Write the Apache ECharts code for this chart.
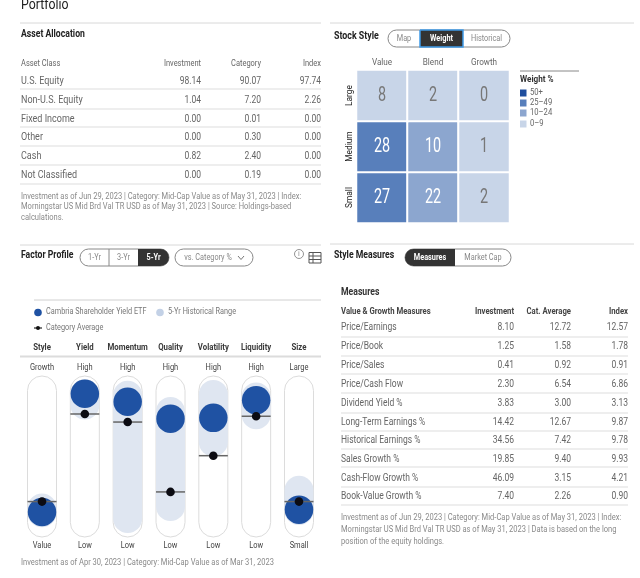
<!DOCTYPE html>
<html><head><meta charset="utf-8">
<style>html,body{margin:0;padding:0;background:#fff}#c{width:640px;height:578px}</style>
<script src="https://cdn.jsdelivr.net/npm/echarts@6/dist/echarts.min.js"></script>
</head><body><div id="c"></div>
<script>
// ---- data ----
const assetHeader = ['Asset Class','Investment','Category','Index'];
const assetNames = ['U.S. Equity','Non-U.S. Equity','Fixed Income','Other','Cash','Not Classified'];
const assetInvestment = ['98.14','1.04','0.00','0.00','0.82','0.00'];
const assetCategory = ['90.07','7.20','0.01','0.30','2.40','0.19'];
const assetIndex = ['97.74','2.26','0.00','0.00','0.00','0.00'];
const assetNote = ['Investment as of Jun 29, 2023 | Category: Mid-Cap Value as of May 31, 2023 | Index:','Morningstar US Mid Brd Val TR USD as of May 31, 2023 | Source: Holdings-based','calculations.'];

const styleCols = ['Value','Blend','Growth'];
const styleRows = ['Small','Medium','Large'];
const styleWeights = [[27,22,2],[28,10,1],[8,2,0]];
const weightLabels = ['50+','25–49','10–24','0–9'];
const weightColors = ['#1f4e9e','#587fbb','#8ca6cf','#c8d5e8'];

const factors = ['Style','Yield','Momentum','Quality','Volatility','Liquidity','Size'];
const factorHigh = ['Growth','High','High','High','High','High','Large'];
const factorLow = ['Value','Low','Low','Low','Low','Low','Small'];
const fundScore = [15.5,89,84,73.5,74,85,17];
const categoryAvg = [22,76.4,71.4,28,50.5,75,22];
const rangeLow = [6,73,2.5,10,50,67,7.5];
const rangeHigh = [27,98,97,87,97.5,96,38];

const measureHeader = ['Value & Growth Measures','Investment','Cat. Average','Index'];
const measureNames = ['Price/Earnings','Price/Book','Price/Sales','Price/Cash Flow','Dividend Yield %','Long-Term Earnings %','Historical Earnings %','Sales Growth %','Cash-Flow Growth %','Book-Value Growth %'];
const measureInvestment = ['8.10','1.25','0.41','2.30','3.83','14.42','34.56','19.85','46.09','7.40'];
const measureCategory = ['12.72','1.58','0.92','6.54','3.00','12.67','7.42','9.40','3.15','2.26'];
const measureIndex = ['12.57','1.78','0.91','6.86','3.13','9.87','9.78','9.93','4.21','0.90'];
const measureNote = ['Investment as of Jun 29, 2023 | Category: Mid-Cap Value as of May 31, 2023 | Index:','Morningstar US Mid Brd Val TR USD as of May 31, 2023 | Data is based on the long','position of the equity holdings.'];
const factorNote = 'Investment as of Apr 30, 2023 | Category: Mid-Cap Value as of Mar 31, 2023';

// ---- helpers ----
const FONT = 'Roboto,sans-serif';
const BLUE = '#1f52a3', PALE = '#dfe6f1', DARK = '#333', GREY = '#666', SX = 0.85;
const g = [];
function T(x,y,text,o){o=o||{};g.push({type:'text',x:x,y:y,z:20,scaleX:o.sx||SX,rotation:o.rot||0,style:{text:text,fill:o.c||GREY,font:(o.b?'bold ':'')+(o.s||9)+'px '+FONT,textAlign:o.a||'left',textVerticalAlign:'middle'}});}
function L(x1,x2,y,c,w,z){g.push({type:'line',z:z||5,shape:{x1:x1,y1:y,x2:x2,y2:y},style:{stroke:c||'#e2e2e2',lineWidth:w||1}});}
function R(x,y,w,h,r,fill,stroke,lw){g.push({type:'rect',z:10,shape:{x:x,y:y,width:w,height:h,r:r},style:{fill:fill,stroke:stroke||null,lineWidth:lw||1}});}
function pill(x,y,w,h,segs){
  R(x,y,w,h,h/2,'#fff','#888');
  segs.forEach(function(s){
    if(s.on){const r=s.r||[0,0,0,0];R(s.x,y,s.w,h,r,DARK,s.o?'#3f9be8':null,s.o?1.5:1);}
    else if(s.div){g.push({type:'line',z:11,shape:{x1:s.x,y1:y,x2:s.x,y2:y+h},style:{stroke:'#888',lineWidth:1}});}
    if(s.t)T(s.x+s.w/2,y+h/2,s.t,{a:'center',c:s.on?'#fff':'#888',b:s.on,s:8.6});
  });
}

// Portfolio heading
T(21,5,'Portfolio',{s:14.5,c:'#222'});
L(20,321,23,'#d8d8d8');L(330,634,23,'#d8d8d8');

// Asset allocation table
T(21,34,'Asset Allocation',{b:true,s:10.2,c:'#222'});
const aCols=[201,261,321];
T(21,64,assetHeader[0],{s:8.8});
aCols.forEach((x,i)=>T(x,64,assetHeader[i+1],{a:'right',s:8.8}));
const aY=[81,100,119,137,156,175], aL=[89,109,127,146,165,184];
assetNames.forEach((n,i)=>{
  T(21,aY[i],n,{s:10.6});
  T(aCols[0],aY[i],assetInvestment[i],{a:'right',s:10});
  T(aCols[1],aY[i],assetCategory[i],{a:'right',s:10});
  T(aCols[2],aY[i],assetIndex[i],{a:'right',s:10});
  L(20,321,aL[i],'#e8e8e8',1.5);
});
[197,207,218].forEach((y,i)=>T(21,y,assetNote[i],{s:8.9,c:'#8a8a8a'}));

// Stock style controls and legend
T(334,36,'Stock Style',{b:true,s:10.4,c:'#222'});
pill(388,30,122,17,[{x:388,w:32,t:'Map'},{x:420,w:43,t:'Weight',on:true,o:true},{x:463,w:47,t:'Historical'}]);
styleCols.forEach((c,i)=>T(356.5+(i+0.5)*51,63,c,{a:'center',s:9.6}));
styleRows.forEach((r,i)=>T(350,223-(i+0.5)*51,r,{a:'center',s:9.8,c:'#222',rot:Math.PI/2}));
L(520,579,71,'#888',1);
T(520,80,'Weight %',{b:true,s:9.6,c:'#333'});
const legendY=[93,103,113,124];
weightLabels.forEach((w,i)=>{R(520,legendY[i]-3.5,6.5,7,0,weightColors[i]);T(530,legendY[i],w,{s:9,c:'#666'});});

// Factor profile controls
L(20,321,245,'#d8d8d8');
T(21,255,'Factor Profile',{b:true,s:10.2,c:'#222'});
pill(80,249,89,17,[{x:80,w:29,t:'1-Yr'},{x:109,div:true},{x:109,w:29,t:'3-Yr'},{x:138,w:31,t:'5-Yr',on:true,r:[0,8.5,8.5,0]}]);
pill(175,249,78,17,[{x:175,w:66,t:'vs. Category %'}]);
g.push({type:'polyline',z:12,shape:{points:[[238,256],[241,259.5],[244,256]]},style:{stroke:'#777',fill:null,lineWidth:1}});
g.push({type:'circle',z:12,shape:{cx:299,cy:254,r:4.5},style:{fill:'#fff',stroke:'#777',lineWidth:0.8}});
T(299,254,'i',{a:'center',s:6.5,c:'#666'});
R(309,252.5,12,10.5,0,'#fff','#555',1);
L(309,321,256,'#555',1,12);L(309,321,259.5,'#555',1,12);
g.push({type:'line',z:12,shape:{x1:313,y1:252.5,x2:313,y2:263},style:{stroke:'#555',lineWidth:1}});

L(34,321,300,'#d0d0d0');
g.push({type:'circle',z:12,shape:{cx:38,cy:312.5,r:3.8},style:{fill:BLUE}});
T(46,312,'Cambria Shareholder Yield ETF',{s:8.6,c:'#777'});
g.push({type:'circle',z:12,shape:{cx:160,cy:312.5,r:3.8},style:{fill:'#c3d1e6'}});
T(168,312,'5-Yr Historical Range',{s:8.6,c:'#777'});
L(34,42,328,'#222',1.2);
g.push({type:'circle',z:12,shape:{cx:38,cy:328,r:2},style:{fill:'#111'}});
T(46,328,'Category Average',{s:8.6,c:'#777'});
L(20,321,356.5,'#dcdcdc',2);
T(21,563,factorNote,{s:8.9,c:'#8a8a8a'});

// Style measures
L(330,634,244,'#d8d8d8');
T(334,255,'Style Measures',{b:true,s:10.2,c:'#222'});
pill(405,249,106,17,[{x:405,w:50,t:'Measures',on:true,r:[8.5,0,0,8.5]},{x:455,w:56,t:'Market Cap'}]);
T(341,292,'Measures',{b:true,s:10.2,c:'#333'});
const mCols=[514,571,628];
T(341,312,measureHeader[0],{b:true,s:9.1,c:'#444'});
mCols.forEach((x,i)=>T(x,312,measureHeader[i+1],{a:'right',b:true,s:9.1,c:'#444'}));
const mY=[327,346,365,384,403,422,440,459,478,496], mL=[337,356,374,393,413,431,449,467,487,505];
measureNames.forEach((n,i)=>{
  T(341,mY[i],n,{s:10});
  T(mCols[0],mY[i],measureInvestment[i],{a:'right',s:10});
  T(mCols[1],mY[i],measureCategory[i],{a:'right',s:10});
  T(mCols[2],mY[i],measureIndex[i],{a:'right',s:10});
  L(341,628,mL[i],'#e8e8e8',1.5);
});
[518,530,542].forEach((y,i)=>T(341,y,measureNote[i],{s:8.9,c:'#8a8a8a'}));

// factor labels
const fGrid={left:20.6,top:376,width:299.8,height:161};
factors.forEach((f,i)=>{
  const cx=fGrid.left+(i+0.5)*fGrid.width/factors.length;
  T(cx,348,f,{a:'center',b:true,s:9.2,c:'#3a3a3a'});
  T(cx,368,factorHigh[i],{a:'center',s:8.8,c:'#444'});
  T(cx,546,factorLow[i],{a:'center',s:8.8,c:'#444'});
});

// ---- series data ----
const heat=[];
styleWeights.forEach((row,r)=>row.forEach((v,c)=>heat.push([c,r,v])));
const pillW=29;
function cellText(p,api){
  const v=api.value(2),c=api.coord([api.value(0),api.value(1)]);
  return {type:'text',x:c[0],y:c[1],scaleX:0.72,style:{text:String(v),fill:v>=10?'#fff':'#777',font:'20px '+FONT,textAlign:'center',textVerticalAlign:'middle'}};
}
function track(p,api){
  const i=api.value(0),a=api.coord([i,100]),b=api.coord([i,0]);
  return {type:'rect',shape:{x:a[0]-pillW/2,y:a[1],width:pillW,height:b[1]-a[1],r:pillW/2},style:{fill:'#fff',stroke:'#dcdcdc',lineWidth:1}};
}
function range(p,api){
  const i=api.value(0),a=api.coord([i,api.value(2)]),b=api.coord([i,api.value(1)]);
  return {type:'rect',shape:{x:a[0]-pillW/2,y:a[1],width:pillW,height:b[1]-a[1],r:pillW/2},style:{fill:PALE}};
}
function avg(p,api){
  const c=api.coord([api.value(0),api.value(1)]);
  return {type:'group',children:[
    {type:'line',shape:{x1:c[0]-14.5,y1:c[1],x2:c[0]+14.5,y2:c[1]},style:{stroke:'#666',lineWidth:1.5}},
    {type:'circle',shape:{cx:c[0],cy:c[1],r:4.3},style:{fill:'#0b0b12'}}
  ]};
}

const chart=echarts.init(document.getElementById('c'),null,{renderer:'canvas'});
const noAxis={axisLine:{show:false},axisTick:{show:false},splitLine:{show:false},axisLabel:{show:false}};
chart.setOption({
  animation:false,
  backgroundColor:'#fff',
  textStyle:{fontFamily:FONT},
  graphic:g,
  grid:[{left:356.5,top:70,width:153,height:153},fGrid],
  xAxis:[
    Object.assign({type:'category',gridIndex:0,data:styleCols,position:'top'},noAxis),
    Object.assign({type:'category',gridIndex:1,data:factors,position:'top'},noAxis)
  ],
  yAxis:[
    Object.assign({type:'category',gridIndex:0,data:styleRows},noAxis),
    {type:'value',gridIndex:1,min:0,max:100,show:false}
  ],
  visualMap:{
    type:'piecewise',show:false,seriesIndex:0,dimension:2,
    pieces:[
      {min:50,color:weightColors[0]},
      {min:25,max:49.99,color:weightColors[1]},
      {min:10,max:24.99,color:weightColors[2]},
      {min:0,max:9.99,color:weightColors[3]}
    ]
  },
  series:[
    {type:'heatmap',xAxisIndex:0,yAxisIndex:0,data:heat,itemStyle:{borderColor:'#fff',borderWidth:2},silent:true},
    {type:'custom',xAxisIndex:0,yAxisIndex:0,z:3,renderItem:cellText,encode:{x:0,y:1},data:heat,silent:true},
    {type:'custom',xAxisIndex:1,yAxisIndex:1,z:2,renderItem:track,encode:{x:0,y:1},data:factors.map((f,i)=>[i,50]),silent:true},
    {type:'custom',xAxisIndex:1,yAxisIndex:1,z:3,renderItem:range,encode:{x:0,y:[1,2]},data:factors.map((f,i)=>[i,rangeLow[i],rangeHigh[i]]),silent:true},
    {type:'scatter',xAxisIndex:1,yAxisIndex:1,z:4,symbolSize:28.5,itemStyle:{color:BLUE,opacity:1},data:factors.map((f,i)=>[i,fundScore[i]]),silent:true},
    {type:'custom',xAxisIndex:1,yAxisIndex:1,z:5,renderItem:avg,encode:{x:0,y:1},data:factors.map((f,i)=>[i,categoryAvg[i]]),silent:true}
  ]
});
</script></body></html>
